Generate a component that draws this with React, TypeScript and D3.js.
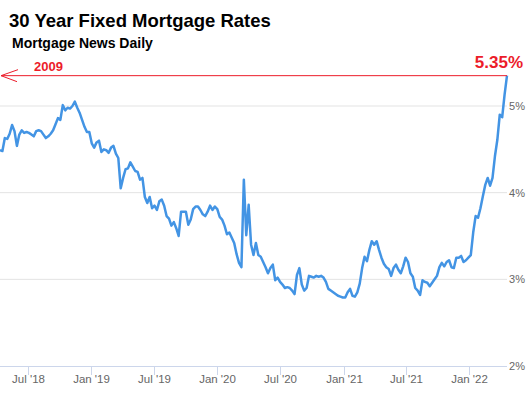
import * as d3 from "d3";

// weekly 30yr fixed rate (%), starting 2018-04-11
const startDate = "2018-04-11";
const rates = [
  4.49, 4.48, 4.63, 4.62, 4.68, 4.78, 4.71, 4.54, 4.67, 4.72,
  4.69, 4.70, 4.69, 4.67, 4.65, 4.71, 4.72, 4.71, 4.67, 4.63,
  4.65, 4.68, 4.72, 4.79, 4.86, 4.84, 5.01, 4.95, 4.98, 4.97,
  5.00, 5.05, 4.98, 4.92, 4.84, 4.76, 4.70, 4.70, 4.57, 4.52,
  4.58, 4.60, 4.47, 4.50, 4.49, 4.46, 4.52, 4.54, 4.45, 4.40,
  4.05, 4.17, 4.27, 4.28, 4.35, 4.30, 4.25, 4.24, 4.15, 4.17,
  3.95, 3.88, 3.95, 3.82, 3.85, 3.80, 3.90, 3.92, 3.85, 3.73,
  3.70, 3.62, 3.66, 3.59, 3.50, 3.78, 3.78, 3.78, 3.63, 3.69,
  3.81, 3.84, 3.84, 3.80, 3.75, 3.73, 3.78, 3.85, 3.80, 3.84,
  3.81, 3.72, 3.69, 3.62, 3.52, 3.54, 3.48, 3.42, 3.29, 3.19,
  3.14, 4.15, 3.51, 3.86, 3.40, 3.28, 3.42, 3.28, 3.26, 3.20,
  3.14, 3.07, 3.13, 3.17, 2.99, 3.02, 2.97, 2.94, 2.90, 2.91,
  2.90, 2.87, 2.83, 3.05, 3.13, 2.94, 2.87, 2.90, 3.04, 3.03,
  3.02, 3.04, 3.03, 3.04, 3.02, 2.97, 2.89, 2.87, 2.85, 2.83,
  2.81, 2.80, 2.79, 2.79, 2.85, 2.89, 2.81, 2.80, 2.85, 2.95,
  3.13, 3.26, 3.21, 3.34, 3.44, 3.40, 3.44, 3.34, 3.25, 3.18,
  3.14, 3.12, 3.04, 3.13, 3.17, 3.11, 3.07, 3.15, 3.25, 3.20,
  3.07, 3.03, 2.90, 2.87, 2.82, 2.99, 2.97, 2.96, 2.92, 2.96,
  3.00, 3.04, 3.14, 3.19, 3.15, 3.20, 3.22, 3.14, 3.13, 3.25,
  3.25, 3.27, 3.20, 3.22, 3.25, 3.28, 3.54, 3.73, 3.71, 3.82,
  3.96, 4.09, 4.17, 4.08, 4.17, 4.42, 4.61, 4.90, 4.87, 5.13, 5.35,
];

const xTicks = [
  "2018-07-01", "2019-01-01", "2019-07-01", "2020-01-01",
  "2020-07-01", "2021-01-01", "2021-07-01", "2022-01-01",
];
const yTicks = [2, 3, 4, 5];
const latest = 5.35;

const title = "30 Year Fixed Mortgage Rates";
const subtitle = "Mortgage News Daily";
const markLabel = "2009";

export default function App() {
  const width = 530;
  const height = 398;
  const plot = { left: 0, right: 507, top: 106, bottom: 366 };

  const parse = d3.timeParse("%Y-%m-%d");
  const start = parse(startDate)!;
  const data = rates.map((v, i) => ({ date: d3.timeDay.offset(start, i * 7), value: v }));

  const x = d3
    .scaleTime()
    .domain(d3.extent(data, (d) => d.date) as [Date, Date])
    .range([plot.left, plot.right]);

  const y = d3.scaleLinear().domain([2, 5]).range([plot.bottom, plot.top]);

  const line = d3
    .line<{ date: Date; value: number }>()
    .x((d) => x(d.date))
    .y((d) => y(d.value));

  const fmt = d3.timeFormat("%b '%y");
  const red = "#ec1c2a";
  const yLatest = y(latest);

  return (
    <svg
      width={width}
      height={height}
      style={{ position: "absolute", left: 0, top: 0, background: "#fff" }}
      fontFamily="'Liberation Sans', Arial, sans-serif"
    >
      <rect width={width} height={height} fill="#fff" />

      {/* titles */}
      <text x={9} y={27} fontSize={18.5} fontWeight="bold" fill="#000">
        {title}
      </text>
      <text x={12} y={48} fontSize={14} fontWeight="bold" fill="#000">
        {subtitle}
      </text>

      {/* grid */}
      {yTicks
        .filter((t) => t !== 2)
        .map((t) => (
          <line key={t} x1={plot.left} x2={plot.right} y1={y(t)} y2={y(t)} stroke="#e3e3e3" strokeWidth={1} />
        ))}

      {/* y labels */}
      {yTicks.map((t) => (
        <text key={t} x={plot.right + 2} y={y(t) + 4} fontSize={11} fill="#666">
          {t}%
        </text>
      ))}

      {/* x axis */}
      <line x1={plot.left} x2={plot.right} y1={plot.bottom + 0.5} y2={plot.bottom + 0.5} stroke="#ccd6eb" />
      {xTicks.map((s) => {
        const d = parse(s)!;
        const px = Math.round(x(d)) + 0.5;
        return (
          <g key={s}>
            <line x1={px} x2={px} y1={plot.bottom} y2={plot.bottom + 9} stroke="#ccd6eb" />
            <text x={px} y={plot.bottom + 17} fontSize={11.5} fill="#666" textAnchor="middle">
              {fmt(d)}
            </text>
          </g>
        );
      })}

      {/* rate line */}
      <path d={line(data) ?? ""} fill="none" stroke="#4394e4" strokeWidth={2.5} strokeLinejoin="round" />

      {/* 2009 level marker */}
      <line x1={1} x2={plot.right} y1={yLatest} y2={yLatest} stroke={red} strokeWidth={1} />
      <line x1={1} x2={18} y1={yLatest} y2={yLatest - 6} stroke={red} strokeWidth={1} />
      <line x1={1} x2={17} y1={yLatest} y2={yLatest + 6} stroke={red} strokeWidth={1} />
      <text x={34} y={yLatest - 5} fontSize={13} fontWeight="bold" fill={red}>
        {markLabel}
      </text>
      <text x={523} y={yLatest - 8} fontSize={17} fontWeight="bold" fill={red} textAnchor="end">
        {latest.toFixed(2)}%
      </text>
    </svg>
  );
}
